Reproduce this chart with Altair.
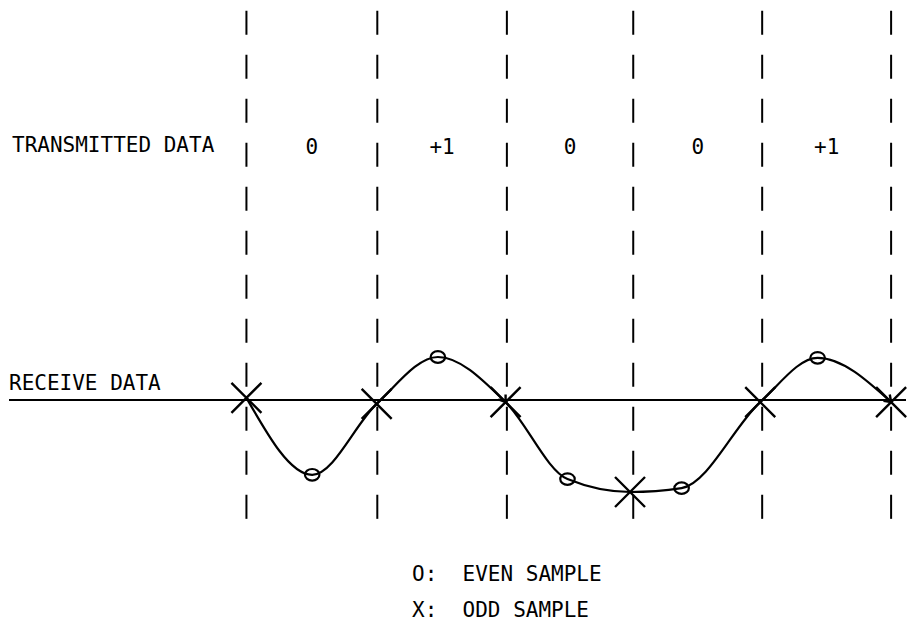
import altair as alt
import pandas as pd

# ---- data ----
# sample instants (in half-symbol units) and received sample values
sample_t = [0.0, 1.02, 2.02, 2.97, 4.02, 4.98, 5.95, 6.75, 7.97, 8.86, 10.0]
sample_v = [0.05, -1.74, -0.09, 1.0, -0.05, -1.84, -2.14, -2.05, -0.05, 0.98, -0.05]
sample_kind = ["X", "O", "X", "O", "X", "O", "X", "O", "X", "O", "X"]

# symbol boundaries (dashed verticals) and transmitted symbols
boundary_t = [0.0, 2.03, 4.04, 6.0, 8.0, 10.0]
tx_symbols = ["0", "+1", "0", "0", "+1"]

row_labels = ["TRANSMITTED DATA", "RECEIVE DATA"]
legend_lines = ["O:\u00a0\u00a0EVEN SAMPLE", "X:\u00a0\u00a0ODD SAMPLE"]

# arrowheads drawn on the curve (at sample instants)
arrow_t = [4.02, 10.0]
arrow_v = [-0.05, -0.05]
arrow_angle = [325, 315]

# ---- layout constants ----
X_DOM = [-3.683, 10.231]
Y_DOM = [-5.233, 9.116]
TX_LEVEL = 5.85
DASH_TOP = 9.05
DASH_BOT = -2.9
FONT = "DejaVu Sans Mono"
FS = 21

xs = alt.Scale(domain=X_DOM, nice=False, zero=False)
ys = alt.Scale(domain=Y_DOM, nice=False, zero=False)

samples = pd.DataFrame({"t": sample_t, "v": sample_v, "kind": sample_kind})
bounds = pd.DataFrame({"t": boundary_t, "top": DASH_TOP, "bot": DASH_BOT})
mids = [(boundary_t[i] + boundary_t[i + 1]) / 2 for i in range(len(tx_symbols))]
tx = pd.DataFrame({"t": mids, "label": tx_symbols, "lvl": TX_LEVEL})
axis_df = pd.DataFrame({"a": [X_DOM[0]], "b": [X_DOM[1]], "v": [0.0]})
arrows = pd.DataFrame({"t": arrow_t, "v": arrow_v, "ang": arrow_angle})

baseline = alt.Chart(axis_df).mark_rule(color="black", strokeWidth=2).encode(
    x=alt.X("a:Q", scale=xs, axis=None),
    x2="b:Q",
    y=alt.Y("v:Q", scale=ys, axis=None),
)

dashes = alt.Chart(bounds).mark_rule(
    color="black", strokeWidth=2, strokeDash=[24, 20]
).encode(
    x=alt.X("t:Q", scale=xs, axis=None),
    y=alt.Y("top:Q", scale=ys, axis=None),
    y2="bot:Q",
)

curve = alt.Chart(samples).mark_line(
    color="black", strokeWidth=2.2, interpolate="monotone"
).encode(
    x=alt.X("t:Q", scale=xs, axis=None),
    y=alt.Y("v:Q", scale=ys, axis=None),
)

odd = alt.Chart(samples).transform_filter(alt.datum.kind == "X").mark_point(
    shape="M-1,-1L1,1M-1,1L1,-1", filled=False, color="black",
    strokeWidth=2.4, size=900, opacity=1,
).encode(
    x=alt.X("t:Q", scale=xs, axis=None),
    y=alt.Y("v:Q", scale=ys, axis=None),
)

even = alt.Chart(samples).transform_filter(alt.datum.kind == "O").mark_point(
    shape="M-1,0A1,0.8 0 1,0 1,0A1,0.8 0 1,0 -1,0Z", filled=False, color="black",
    strokeWidth=2.2, size=210, opacity=1,
).encode(
    x=alt.X("t:Q", scale=xs, axis=None),
    y=alt.Y("v:Q", scale=ys, axis=None),
)

heads = alt.Chart(arrows).mark_point(
    shape="M-0.7,-1L0,0L0.7,-1", filled=False, color="black",
    strokeWidth=2.4, size=160, opacity=1,
).encode(
    x=alt.X("t:Q", scale=xs, axis=None),
    y=alt.Y("v:Q", scale=ys, axis=None),
    angle=alt.Angle("ang:Q", scale=None),
)

tx_text = alt.Chart(tx).mark_text(
    font=FONT, fontSize=FS, fontWeight=500, color="black",
    align="center", baseline="middle"
).encode(
    x=alt.X("t:Q", scale=xs, axis=None),
    y=alt.Y("lvl:Q", scale=ys, axis=None),
    text="label:N",
)

def label(txt, px, py):
    return alt.Chart(pd.DataFrame({"s": [txt]})).mark_text(
        font=FONT, fontSize=FS, fontWeight=500, color="black",
        align="left", baseline="middle"
    ).encode(x=alt.value(px), y=alt.value(py), text="s:N")

texts = [
    label(row_labels[0], 3, 138),
    label(row_labels[1], 0, 376),
    label(legend_lines[0], 403, 567),
    label(legend_lines[1], 403, 603),
]

chart = alt.layer(baseline, dashes, curve, even, odd, heads, tx_text, *texts).properties(
    width=903, height=617, padding=0,
    autosize=alt.AutoSizeParams(type="fit", contains="padding"),
    background="white",
).configure_view(stroke=None)

chart.save("out.html", embed_options={"renderer": "svg", "actions": False})
